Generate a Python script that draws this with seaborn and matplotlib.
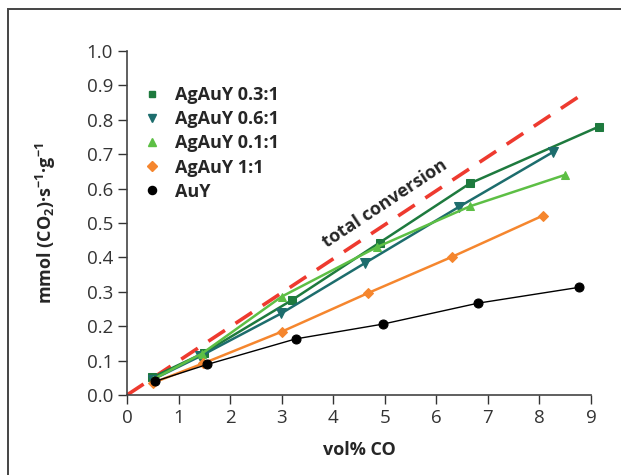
import numpy as np
import pandas as pd
import matplotlib
matplotlib.use("Agg")
import matplotlib.pyplot as plt
from matplotlib.lines import Line2D
from matplotlib.patches import Rectangle
import seaborn as sns

# data
x_03 = [0.49, 1.50, 3.20, 4.90, 6.65, 9.15]
y_03 = [0.051, 0.123, 0.276, 0.443, 0.615, 0.780]

x_06 = [0.50, 1.41, 2.99, 4.61, 6.44, 8.26]
y_06 = [0.045, 0.112, 0.237, 0.383, 0.547, 0.706]

x_01 = [0.50, 1.45, 3.00, 4.85, 6.66, 8.50]
y_01 = [0.045, 0.120, 0.286, 0.430, 0.549, 0.640]

x_11 = [0.50, 1.48, 3.00, 4.67, 6.31, 8.06]
y_11 = [0.035, 0.092, 0.184, 0.296, 0.402, 0.521]

x_auy = [0.55, 1.56, 3.27, 4.96, 6.81, 8.77]
y_auy = [0.040, 0.089, 0.163, 0.206, 0.267, 0.313]

total_x = [0.0, 8.75]
total_y = [0.0, 0.866]

series = [
    ("AgAuY 0.3:1", x_03, y_03, "#1e7a3e", "s", 1.8, 5.5),
    ("AgAuY 0.6:1", x_06, y_06, "#1d6d6d", "v", 1.8, 6.5),
    ("AgAuY 0.1:1", x_01, y_01, "#5dbf45", "^", 1.8, 6.0),
    ("AgAuY 1:1", x_11, y_11, "#f5862e", "D", 1.8, 5.2),
    ("AuY", x_auy, y_auy, "black", "o", 1.0, 6.5),
]

sns.set_style("ticks")
plt.rcParams["font.family"] = ["Open Sans", "DejaVu Sans"]
plt.rcParams["mathtext.fontset"] = "custom"
plt.rcParams["mathtext.rm"] = "Open Sans"
plt.rcParams["mathtext.bf"] = "Open Sans:bold"

fig = plt.figure(figsize=(6.21, 4.75), dpi=100)
ax = fig.add_axes([127 / 621, 1 - 395 / 475, 464 / 621, 344 / 475])

# total conversion reference line
sns.lineplot(x=total_x, y=total_y, ax=ax, color="#ee3a2f", linewidth=2.6,
             linestyle=(0, (5.5, 3.5)), zorder=2)

handles = []
for name, xs, ys, col, mk, lw, ms in series:
    df = pd.DataFrame({"x": xs, "y": ys})
    sns.lineplot(data=df, x="x", y="y", ax=ax, color=col, linewidth=lw,
                 marker=mk, markersize=ms, markeredgecolor=col,
                 sort=False, estimator=None, clip_on=False, zorder=3)
    handles.append(Line2D([], [], linestyle="none", marker=mk, color=col,
                          markersize=ms * 0.9, markeredgecolor=col, label=name))

ax.set_xlim(0, 9)
ax.set_ylim(0, 1.0)
ax.set_xticks(np.arange(0, 10, 1))
ax.set_yticks(np.arange(0, 1.01, 0.1))
ax.set_yticklabels([f"{v:.1f}" for v in np.arange(0, 1.01, 0.1)])

for s in ["top", "right"]:
    ax.spines[s].set_visible(False)
for s in ["left", "bottom"]:
    ax.spines[s].set_color("#444444")
    ax.spines[s].set_linewidth(1.2)
ax.tick_params(axis="both", direction="out", length=6.5, width=1.0,
               color="#333333", labelcolor="#333333", labelsize=13.5)

ax.set_xlabel("vol% CO", fontsize=13, fontweight="bold")
ax.set_ylabel(r"mmol (CO$_\mathbf{2}$)·s$^\mathbf{-1}$·g$^\mathbf{-1}$",
              fontsize=13, fontweight="bold")
ax.xaxis.set_label_coords(0.5, -0.135)
ax.yaxis.set_label_coords(-0.148, 0.5)

ax.text(5.0, 0.555, "total conversion", rotation=33.5, ha="center", va="center",
        fontsize=13, fontweight="bold", rotation_mode="anchor")

leg = ax.legend(handles=handles, loc="upper left", bbox_to_anchor=(0.031, 0.898),
                frameon=False, prop={"weight": "bold", "size": 13},
                borderpad=0, borderaxespad=0,
                handletextpad=0.66, handlelength=1.2, labelspacing=0.34)

fig.patches.append(Rectangle((8 / 621, -0.5), 2.0, 1.5 - 9 / 475,
                             transform=fig.transFigure, fill=False,
                             edgecolor="#444444", linewidth=1.4))

fig.savefig("out.png", dpi=100)
